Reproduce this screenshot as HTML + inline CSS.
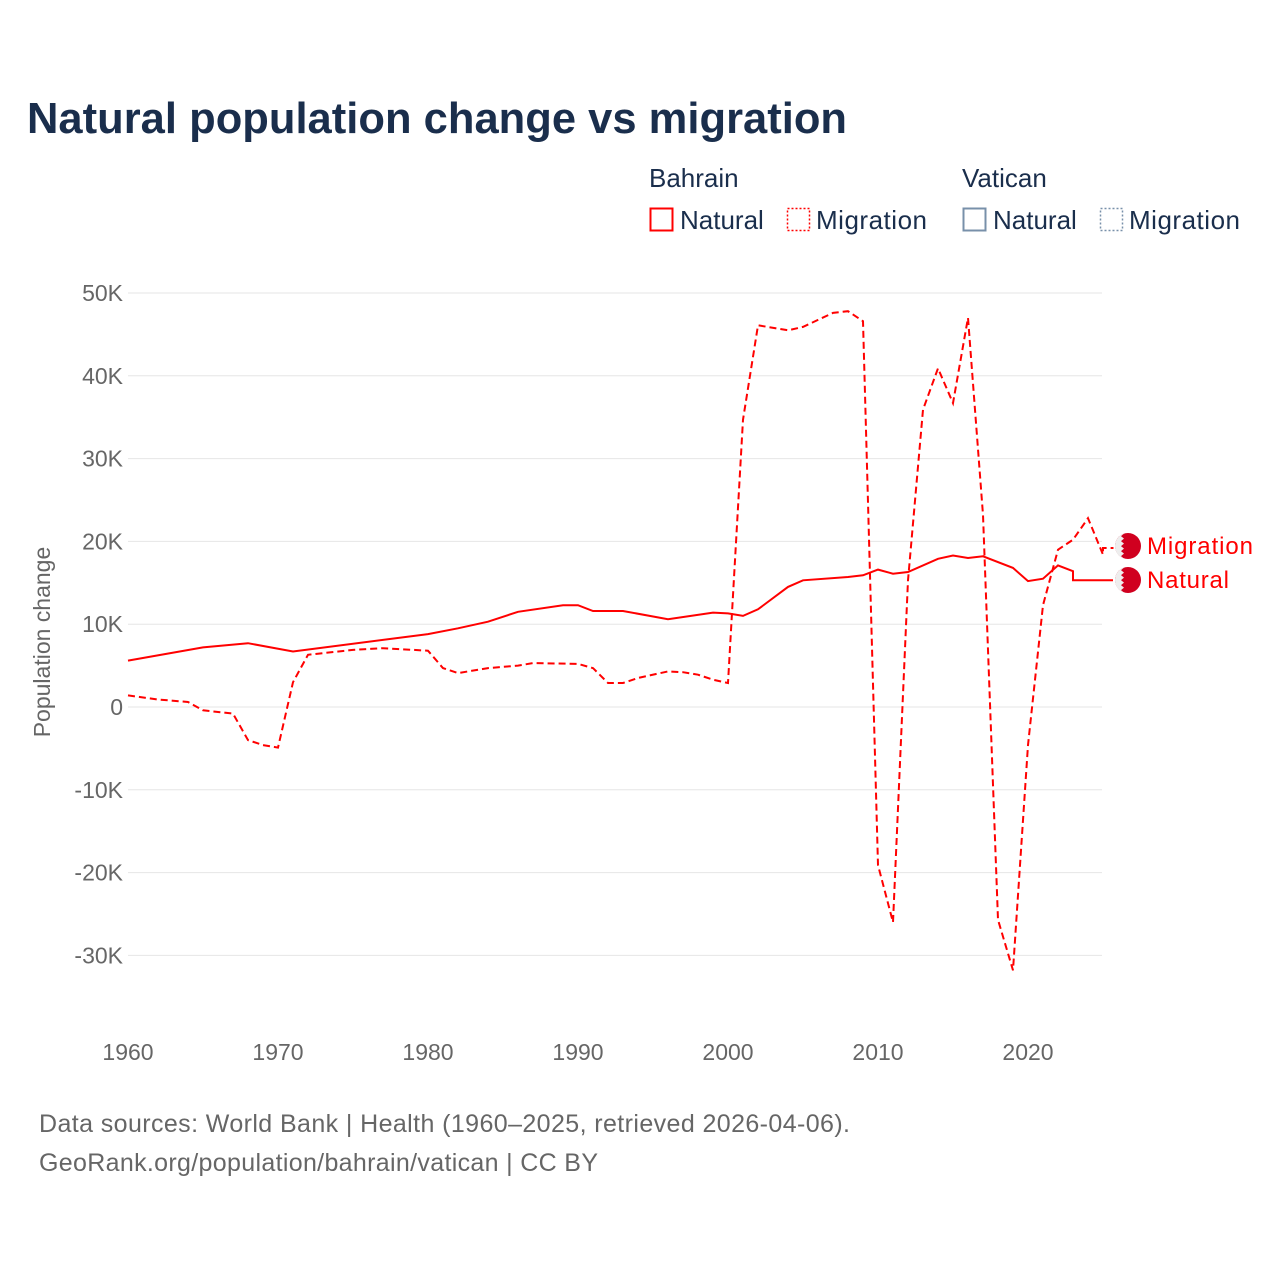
<!DOCTYPE html>
<html><head><meta charset="utf-8"><style>
body{margin:0;background:#fff;}
svg text{font-family:"Liberation Sans",sans-serif;}
</style></head><body>
<svg id="chart" width="1280" height="1280" viewBox="0 0 1280 1280" xmlns="http://www.w3.org/2000/svg">
<text x="27" y="133" font-size="43.5" font-weight="bold" fill="#1a2e4c" textLength="820">Natural population change vs migration</text>
<g font-size="26" fill="#1a2e4c">
<text x="649" y="187">Bahrain</text>
<text x="962" y="187">Vatican</text>
<g><rect x="650.5" y="208.5" width="22" height="22" fill="none" stroke="#f00" stroke-width="2"/><text x="680" y="229">Natural</text></g>
<g><rect x="787.5" y="208.5" width="22" height="22" fill="none" stroke="#f00" stroke-width="1.5" stroke-dasharray="2,2"/><text x="816" y="229" textLength="111">Migration</text></g>
<g><rect x="963.5" y="208.5" width="22" height="22" fill="none" stroke="#7890aa" stroke-width="2"/><text x="993" y="229">Natural</text></g>
<g><rect x="1100.5" y="208.5" width="22" height="22" fill="none" stroke="#7890aa" stroke-width="1.5" stroke-dasharray="2,2"/><text x="1129" y="229" textLength="111">Migration</text></g>
</g>
<g id="grid"></g>
<g id="yticks" font-size="23" fill="#666"></g>
<g id="xticks" font-size="23" fill="#666"></g>
<text transform="translate(50,642) rotate(-90)" text-anchor="middle" font-size="23" fill="#666">Population change</text>
<g id="series"></g>
<g font-size="24" fill="#f00">
<g><circle cx="1128" cy="546" r="13" fill="#d0001f"/><path d="M1115,546 A13,13 0 0 1 1124,533.6 l-3,2.5 3,2.5 -3,2.5 3,2.5 -3,2.5 3,2.5 -3,2.5 3,2.5 -3,2.5 3,2.5 A13,13 0 0 1 1115,546Z" fill="#eee"/></g>
<g><circle cx="1128" cy="580" r="13" fill="#d0001f"/><path d="M1115,580 A13,13 0 0 1 1124,567.6 l-3,2.5 3,2.5 -3,2.5 3,2.5 -3,2.5 3,2.5 -3,2.5 3,2.5 -3,2.5 3,2.5 A13,13 0 0 1 1115,580Z" fill="#eee"/></g>
<text x="1147" y="554" textLength="106">Migration</text>
<text x="1147" y="588" textLength="82">Natural</text>
</g>
<g font-size="25" fill="#666">
<text x="39" y="1132" textLength="811">Data sources: World Bank | Health (1960–2025, retrieved 2026-04-06).</text>
<text x="39" y="1171" textLength="559">GeoRank.org/population/bahrain/vatican | CC BY</text>
</g>
</svg>
<script>
const yTickValues=[50000,40000,30000,20000,10000,0,-10000,-20000,-30000];
const yTickLabels=["50K","40K","30K","20K","10K","0","-10K","-20K","-30K"];
const xTickYears=[1960,1970,1980,1990,2000,2010,2020];
const naturalYears=[1960,1965,1968,1971,1980,1982,1984,1986,1989,1990,1991,1993,1996,1999,2000,2001,2002,2004,2005,2008,2009,2010,2011,2012,2014,2015,2016,2017,2019,2020,2021,2022,2023,2023,2025];
const naturalValues=[5600,7200,7700,6700,8800,9500,10300,11500,12300,12300,11600,11600,10600,11400,11300,11000,11800,14500,15300,15700,15900,16600,16100,16300,17900,18300,18000,18200,16800,15200,15500,17100,16400,15300,15300];
const migrationYears=[1960,1962,1964,1965,1967,1968,1969,1970,1971,1972,1975,1977,1980,1981,1982,1984,1986,1987,1990,1991,1992,1993,1994,1996,1997,1998,1999,2000,2001,2002,2004,2005,2007,2008,2009,2010,2011,2012,2013,2014,2015,2016,2017,2018,2019,2020,2021,2022,2023,2024,2025,2025,2025.7];
const migrationValues=[1400,900,600,-400,-800,-4000,-4600,-4900,3000,6300,6900,7100,6800,4700,4100,4700,5000,5300,5200,4700,2900,2900,3500,4300,4200,3900,3300,2900,34700,46100,45500,45900,47600,47800,46600,-19100,-26000,15300,35900,40900,36700,47000,23200,-25700,-31800,-4600,12300,19000,20200,22800,18400,19200,19200];
const X=y=>128+(y-1960)*15;
const Y=v=>707-v/10000*82.8;
const NS="http://www.w3.org/2000/svg";
function mk(tag,attrs,parent){const e=document.createElementNS(NS,tag);for(const k in attrs)e.setAttribute(k,attrs[k]);parent.appendChild(e);return e;}
const grid=document.getElementById('grid'),yt=document.getElementById('yticks'),xt=document.getElementById('xticks'),ser=document.getElementById('series');
yTickValues.forEach((v,i)=>{
 const l=mk('line',{x1:128,x2:1102,y1:Y(v),y2:Y(v),stroke:'#e6e6e6','stroke-width':1},grid);
 
 
 const t=mk('text',{x:123,y:Y(v)+8,'text-anchor':'end'},yt);
 t.textContent=yTickLabels[i];
 
 
});
xTickYears.forEach(yr=>{
 const t=mk('text',{x:X(yr),y:1060,'text-anchor':'middle'},xt);
 t.textContent=String(yr);
 
 
});
function pts(ys,vs){return ys.map((y,i)=>X(y).toFixed(1)+','+Y(vs[i]).toFixed(1)).join(' ');}
const n=mk('polyline',{points:pts(naturalYears,naturalValues)+' '+(X(2025)+10)+','+Y(15300).toFixed(1),fill:'none',stroke:'#f00','stroke-width':2},ser);


const m=mk('polyline',{points:pts(migrationYears,migrationValues),fill:'none',stroke:'#f00','stroke-width':2,'stroke-dasharray':'7,4'},ser);


</script>
</body></html>
